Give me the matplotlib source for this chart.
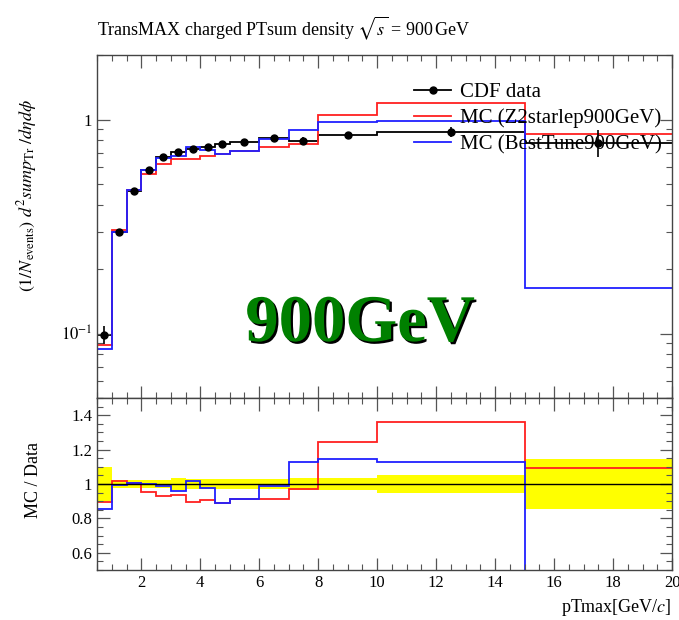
import numpy as np
import matplotlib
matplotlib.use("Agg")
import matplotlib.pyplot as plt
import matplotlib.patheffects as pe
from matplotlib.ticker import MultipleLocator, FixedLocator, LogLocator, NullFormatter
from matplotlib.lines import Line2D

plt.rcParams['font.family'] = ['Liberation Serif', 'DejaVu Serif']
plt.rcParams['mathtext.fontset'] = 'stix'

# pTmax binning (GeV/c)
bin_edges = [0.5, 1.0, 1.5, 2.0, 2.5, 3.0, 3.5, 4.0, 4.5, 5.0, 6.0, 7.0, 8.0, 10.0, 15.0, 20.0]

# CDF measurement and its relative uncertainty per bin
cdf_data = [0.099, 0.300, 0.466, 0.584, 0.667, 0.703, 0.729, 0.743, 0.770, 0.783,
            0.818, 0.797, 0.848, 0.875, 0.780]
cdf_relerr = [0.10, 0.025, 0.025, 0.025, 0.025, 0.035, 0.03, 0.03, 0.03, 0.03,
              0.03, 0.035, 0.035, 0.05, 0.145]

# generator predictions
mc_z2star = [0.0887, 0.306, 0.470, 0.558, 0.620, 0.657, 0.652, 0.673, 0.687, 0.713,
             0.748, 0.772, 1.054, 1.190, 0.853]
mc_besttune = [0.0848, 0.298, 0.470, 0.583, 0.660, 0.675, 0.741, 0.724, 0.687, 0.716,
               0.810, 0.898, 0.973, 0.986, 0.164]

edges = np.array(bin_edges)
centers = 0.5 * (edges[:-1] + edges[1:])
data = np.array(cdf_data)
relerr = np.array(cdf_relerr)
z2 = np.array(mc_z2star)
bt = np.array(mc_besttune)

fig = plt.figure(figsize=(6.79, 6.20), dpi=100)
ax = fig.add_axes([0.1429, 0.358, 0.847, 0.553])
rax = fig.add_axes([0.1429, 0.0806, 0.847, 0.2774], sharex=ax)

# main panel
ax.stairs(data, edges, baseline=None, color='black', lw=1.3)
ax.errorbar(centers, data, yerr=data * relerr, fmt='o', color='black', ms=5,
            lw=1.2, capsize=0)
ax.stairs(z2, edges, baseline=None, color='#ff2020', lw=1.3)
ax.stairs(bt, edges, baseline=None, color='#2020ff', lw=1.3)

ax.set_yscale('log')
ax.set_xlim(0.5, 20)
ax.set_ylim(0.05, 2.0)
ax.yaxis.set_major_locator(FixedLocator([0.1, 1.0]))
ax.set_yticklabels([r'$10^{-1}$', '1'])
ax.yaxis.set_minor_locator(LogLocator(base=10, subs=np.arange(2, 10)))
ax.yaxis.set_minor_formatter(NullFormatter())
ax.tick_params(labelbottom=False)

handles = [Line2D([], [], color='black', marker='o', ms=5, lw=1.3),
           Line2D([], [], color='#ff2020', lw=1.3),
           Line2D([], [], color='#2020ff', lw=1.3)]
labels = ['CDF data', 'MC (Z2starlep900GeV)', 'MC (BestTune900GeV)']
ax.legend(handles, labels, loc='upper left', bbox_to_anchor=(0.552, 0.92),
          frameon=False, fontsize=15, handlelength=1.75, handletextpad=0.45,
          labelspacing=0.3, borderaxespad=0, borderpad=0)

# ratio panel
rax.stairs(1 + relerr, edges, baseline=1 - relerr, fill=True, color='#ffff00', lw=0)
rax.axhline(1.0, color='black', lw=1.0)
rax.stairs(z2 / data, edges, baseline=None, color='#ff2020', lw=1.3)
rax.stairs(bt / data, edges, baseline=None, color='#2020ff', lw=1.3)
rax.set_ylim(0.5, 1.5)
rax.yaxis.set_minor_locator(MultipleLocator(0.05))
rax.set_yticks([0.6, 0.8, 1.0, 1.2, 1.4])
rax.set_yticklabels(['0.6', '0.8', '1', '1.2', '1.4'])

for a in (ax, rax):
    a.xaxis.set_major_locator(MultipleLocator(2))
    a.xaxis.set_minor_locator(MultipleLocator(0.5))
    a.tick_params(which='both', direction='in', top=True, right=True, labelsize=12)
    a.tick_params(which='major', length=9, width=0.9, color='#555555')
    a.tick_params(which='minor', length=4.5, width=0.8, color='#555555')
    for s in a.spines.values():
        s.set_color('#444444')
        s.set_linewidth(1.0)

rax.set_xticks(np.arange(2, 21, 2))
rax.set_xticklabels([str(v) for v in range(2, 21, 2)])

# labels and title
fig.text(97 / 679, 1 - 28 / 620, r'TransMAX charged PTsum density $\sqrt{s}$ = 900$\,$GeV',
         ha='left', va='center', fontsize=13)
fig.text(27 / 679, 1 - 196 / 620,
         r'$(1/N_{\mathrm{events}})\ d^2 sump_{\mathrm{Tr}}\ /d\eta d\phi$',
         rotation=90, ha='center', va='center', fontsize=13)
fig.text(33 / 679, 1 - 480 / 620, 'MC / Data', rotation=90, ha='center', va='center',
         fontsize=13)
fig.text(672 / 679, 1 - 607 / 620, r'pTmax[GeV/$c$]', ha='right', va='center',
         fontsize=13)

# energy tag with drop shadow
fig.text(360 / 679, 1 - 341 / 620, '900GeV', ha='center', va='baseline',
         fontsize=48, fontweight='bold', family='Liberation Serif', color='#008000',
         path_effects=[pe.SimplePatchShadow(offset=(1.6, -1.6), shadow_rgbFace='black',
                                            alpha=1.0),
                       pe.Normal()])

fig.savefig('out.png', dpi=100)
